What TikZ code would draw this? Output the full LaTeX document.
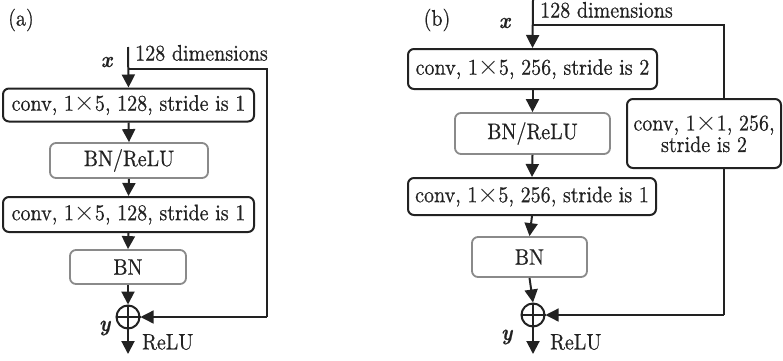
\documentclass[tikz,border=0pt]{standalone}
\usepackage{fontspec}
\setmainfont{lmroman10-regular.otf}[
  FakeStretch=0.89,
  FakeBold=0.6,
  BoldFont=lmroman10-bold.otf,
  ItalicFont=lmroman10-italic.otf,
  BoldItalicFont=lmroman10-bolditalic.otf]
\usetikzlibrary{arrows.meta}
\definecolor{ink}{HTML}{222222}
\definecolor{boxgrey}{HTML}{8A8A8A}
\newcommand{\crossby}{\scalebox{1.3}{$\times$}}
\begin{document}
\begin{tikzpicture}[x=1pt,y=-1pt,
  every node/.style={font=\fontsize{22.5}{24}\selectfont, text=ink},
  darkbox/.style={draw=ink, line width=2pt, rounded corners=6pt, inner sep=0pt},
  greybox/.style={draw=boxgrey, line width=1.8pt, rounded corners=6pt, inner sep=0pt},
  tip/.style={-{Triangle[length=13pt,width=13pt]}},
  flow/.style={draw=ink, line width=2pt, tip},
  skipline/.style={draw=ink, line width=1.3pt},
  sumnode/.style={circle, draw=ink, line width=2pt, minimum size=23pt, inner sep=0pt},
  plusbar/.style={draw=ink, line width=1.2pt},
  lbl/.style={anchor=west, inner sep=0pt},
]
\useasboundingbox (0,0) rectangle (783,360);

% ---------------- block (a): identity shortcut ----------------
\node (labA) at (21,20) {(a)};
\coordinate (inA) at (128,47);
\coordinate (splitA) at (128,69);
\coordinate (cornA1) at (267,69);
\coordinate (cornA2) at (267,317);

\node[darkbox, minimum width=251pt, minimum height=33pt] (convA1) at (128.5,105) {conv, 1\crossby5, 128, stride is 1};
\node[greybox, minimum width=158pt, minimum height=35pt] (bnreluA) at (129,160.5) {BN/ReLU};
\node[darkbox, minimum width=251pt, minimum height=35pt] (convA2) at (128.5,214.5) {conv, 1\crossby5, 128, stride is 1};
\node[greybox, minimum width=116pt, minimum height=34pt] (bnA) at (128,267) {BN};
\node[sumnode] (sumA) at (128,317) {};
\draw[plusbar] (sumA.north) -- (sumA.south) (sumA.west) -- (sumA.east);
\coordinate (outA) at (128,354);

\node (xA) at (107,62) {\textbf{\textit{x}}};
\node[lbl] (dimA) at (135,53) {128 dimensions};
\node (yA) at (105,328) {\textbf{\textit{y}}};
\node[lbl] (reluA) at (142,342) {ReLU};

\draw[flow] (inA) -- (convA1.north);
\draw[flow] (convA1.south) -- (bnreluA.north);
\draw[flow] (bnreluA.south) -- (convA2.north);
\draw[flow] (convA2.south) -- (bnA.north);
\draw[flow] (bnA.south) -- (sumA.north);
\draw[flow] (sumA.south) -- (outA);
\draw[skipline] (splitA) -- (cornA1) -- (cornA2);
\draw[skipline, tip] (cornA2) -- (sumA.east);

% ---------------- block (b): projection shortcut ----------------
\node (labB) at (437,20) {(b)};
\coordinate (inB) at (533,0);
\coordinate (splitB) at (533,25);
\coordinate (cornB1) at (724,25);
\coordinate (cornB2) at (724,315);

\node[darkbox, minimum width=249pt, minimum height=40pt] (convB1) at (532.5,69) {conv, 1\crossby5, 256, stride is 2};
\node[greybox, minimum width=155pt, minimum height=41pt] (bnreluB) at (532.5,133.5) {BN/ReLU};
\node[darkbox, minimum width=248pt, minimum height=37pt] (convB2) at (532,196.5) {conv, 1\crossby5, 256, stride is 1};
\node[greybox, minimum width=115pt, minimum height=40pt] (bnB) at (529.5,257) {BN};
\node[sumnode] (sumB) at (533,315) {};
\draw[plusbar] (sumB.north) -- (sumB.south) (sumB.west) -- (sumB.east);
\coordinate (outB) at (533,354);

\node[darkbox, minimum width=154pt, minimum height=69pt, align=center,
      font=\fontsize{22.5}{21.5}\selectfont] (projB) at (704,133.5)
      {conv, 1\crossby1, 256,\\stride is 2};
\coordinate (projTop) at (724,99);
\coordinate (projBot) at (724,168);

\node (xB) at (505,23) {\textbf{\textit{x}}};
\node[lbl] (dimB) at (540,10) {128 dimensions};
\node (yB) at (507,337) {\textbf{\textit{y}}};
\node[lbl] (reluB) at (550,342) {ReLU};

\draw[flow] (inB) -- (convB1.north);
\draw[flow] (convB1.south) -- (bnreluB.north);
\draw[flow] (bnreluB.south) -- (convB2.north);
\draw[flow] (convB2.south) -- (bnB.north);
\draw[flow] (bnB.south) -- (sumB.north);
\draw[flow] (sumB.south) -- (outB);
\draw[skipline] (splitB) -- (cornB1) -- (projTop);
\draw[skipline] (projBot) -- (cornB2);
\draw[skipline, tip] (cornB2) -- (sumB.east);
\end{tikzpicture}
\end{document}
